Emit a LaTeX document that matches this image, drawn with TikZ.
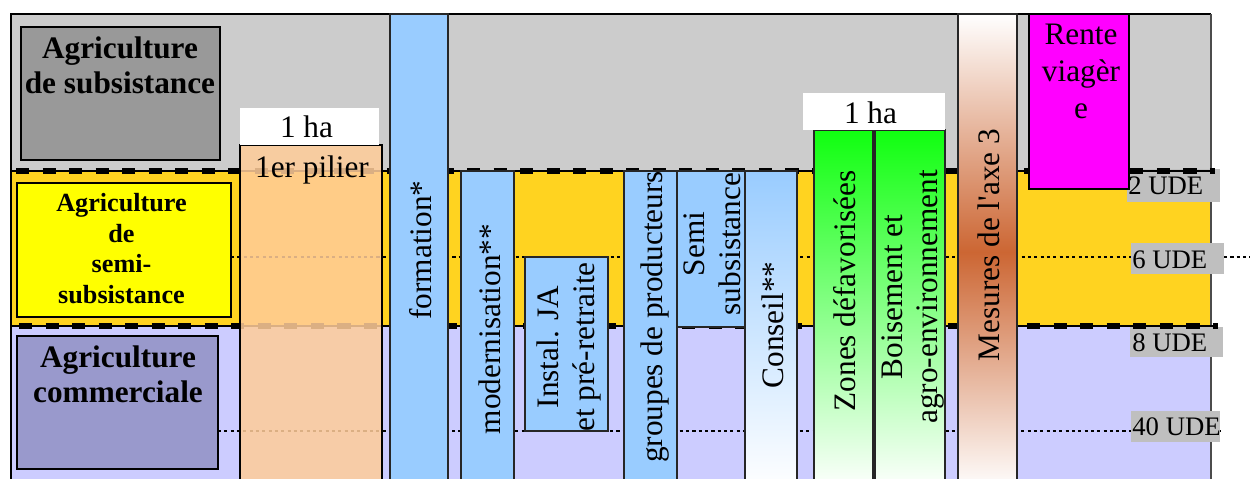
\documentclass[tikz,border=0pt]{standalone}
\usepackage{fontspec}
\setmainfont{Liberation Serif}
\definecolor{bandgray}{HTML}{CCCCCC}
\definecolor{subgray}{HTML}{999999}
\definecolor{bandyellow}{HTML}{FFD320}
\definecolor{boxyellow}{HTML}{FFFF00}
\definecolor{bandlav}{HTML}{CCCCFF}
\definecolor{boxlav}{HTML}{9999CC}
\definecolor{peach}{HTML}{FFCC99}
\definecolor{barblue}{HTML}{99CCFF}
\definecolor{greenbar}{HTML}{10FF10}
\definecolor{rust}{HTML}{CC6633}
\definecolor{mag}{HTML}{FF00FF}
\definecolor{udegray}{HTML}{BFBFBF}
\begin{document}
\begin{tikzpicture}[x=0.02cm,y=-0.02cm,
  boxline/.style={draw=black,line width=1.3pt},
  barline/.style={draw=black!85,line width=0.9pt},
  bluebar/.style={barline,fill=barblue},
  txt/.style={inner sep=0pt,font=\fontsize{17.8}{20.4}\selectfont},
  vtxt/.style={txt,rotate=90,align=center},
  btxt/.style={inner sep=0pt,align=center,font=\fontsize{17.8}{20.4}\selectfont\bfseries},
  udebox/.style={fill=udegray},
  udetxt/.style={inner sep=0pt,anchor=west,font=\fontsize{15.2}{17}\selectfont},
  thickdash/.style={line width=3.4pt,dash pattern=on 7.5pt off 7.6pt},
  thinline/.style={line width=0.6pt,black},
  dotline/.style={line width=1pt,dash pattern=on 1.8pt off 1.8pt}]
\useasboundingbox (0,0) rectangle (1250,478);
\clip (0,0) rectangle (1250,478);
\fill[white] (0,0) rectangle (1250,478);
% bands
\fill[bandgray] (11,14) rectangle (1211,171);
\fill[bandyellow] (11,171) rectangle (1211,326);
\fill[bandlav] (11,326) rectangle (1211,490);
\draw[line width=1.3pt] (11,490) -- (11,14) -- (1211,14);
\draw[line width=0.7pt,black!70] (1211,14) -- (1211,490);
% category boxes
\draw[boxline,fill=subgray] (21,27) rectangle (220,160);
\draw[boxline,fill=boxyellow] (17,183) rectangle (231,317);
\draw[boxline,fill=boxlav] (17,336) rectangle (218,469);
% dotted thresholds
\coordinate (d6a) at (231,257);
\coordinate (d6b) at (1250,257);
\coordinate (d40a) at (218,431);
\coordinate (d40b) at (1223,431);
\draw[dotline] (d6a) -- (d6b);
\draw[dotline] (d40a) -- (d40b);
% UDE labels
\fill[udebox] (1127,169) rectangle (1220,202);
\fill[udebox] (1131,243) rectangle (1224,274);
\fill[udebox] (1130,327) rectangle (1223,357);
\fill[udebox] (1131,411) rectangle (1220,442);
% thick dashed thresholds
\coordinate (t2a) at (11,171);
\coordinate (t2b) at (1215,171);
\coordinate (t8a) at (11,326);
\coordinate (t8b) at (1218,326);
\draw[thinline] (t2a) -- (t2b);
\draw[thinline] (t8a) -- (t8b);
\draw[thickdash] (16,171) -- (t2b);
\draw[thickdash] (19,326) -- (t8b);
% bars
\draw[bluebar] (390,14) rectangle (448,490);
\draw[bluebar] (461,171) rectangle (514,490);
\draw[bluebar] (525,257) rectangle (608,431);
\draw[bluebar] (624,171) rectangle (677,490);
\draw[bluebar] (677,171) rectangle (745,327);
\shade[top color=barblue,bottom color=white] (745,171) rectangle (797,490);
\draw[barline] (745,171) rectangle (797,490);
\shade[top color=greenbar,bottom color=white] (814,130) rectangle (873,490);
\draw[barline] (814,130) rectangle (873,490);
\shade[top color=greenbar,bottom color=white] (875,130) rectangle (945,490);
\draw[barline] (875,130) rectangle (945,490);
\shade[top color=white,bottom color=white,middle color=rust] (958,14) rectangle (1017,490);
\draw[barline] (958,14) rectangle (1017,490);
\draw[boxline,fill=mag] (1029,14) rectangle (1129,189);
% 1er pilier (semi-transparent)
\fill[peach,fill opacity=0.86] (240,145) rectangle (382,490);
\draw[boxline] (240,490) -- (240,145) -- (382,145) -- (382,490);
% 1 ha white boxes
\fill[white] (240,108) rectangle (379,145);
\fill[white] (803,93) rectangle (945,130);
% texts
\node[btxt,anchor=north] (subs) at (120,36) {Agriculture\\de subsistance};
\node[inner sep=0pt,align=center,anchor=north,font=\fontsize{14.9}{17.4}\selectfont\bfseries] (semi) at (121.5,193) {Agriculture\\de\\semi-\\subsistance};
\node[btxt,anchor=north] (comm) at (118,345) {Agriculture\\commerciale};
\node[txt] (ha1) at (306.5,127) {1 ha};
\node[txt] (ha2) at (870.5,112.5) {1 ha};
\node[txt] (pil) at (312,169.5) {1er pilier};
\node[vtxt] (form) at (420.5,250) {formation*};
\node[vtxt] (mod) at (490,329) {modernisation**};
\node[vtxt] (inst) at (569,347) {Instal. JA\\et pré-retraite};
\node[vtxt] (grp) at (655,317) {groupes de producteurs};
\node[vtxt] (ssub) at (712,244) {Semi\\subsistance};
\node[vtxt] (cons) at (772.5,325) {Conseil**};
\node[vtxt] (zon) at (845,291) {Zones défavorisées};
\node[vtxt] (bois) at (913,297) {Boisement et\\agro-environnement};
\node[vtxt] (mes) at (988.5,245) {Mesures de l\textquotesingle axe 3};
\node[txt,align=center,anchor=north,font=\fontsize{17.8}{21}\selectfont] (rente) at (1081,24) {Rente\\viagèr\\e};
\node[udetxt] (u2) at (1128,186) {2 UDE};
\node[udetxt] (u6) at (1132,260) {6 UDE};
\node[udetxt] (u8) at (1132,343) {8 UDE};
\node[udetxt] (u40) at (1132,426.5) {40 UDE};
\end{tikzpicture}
\end{document}
